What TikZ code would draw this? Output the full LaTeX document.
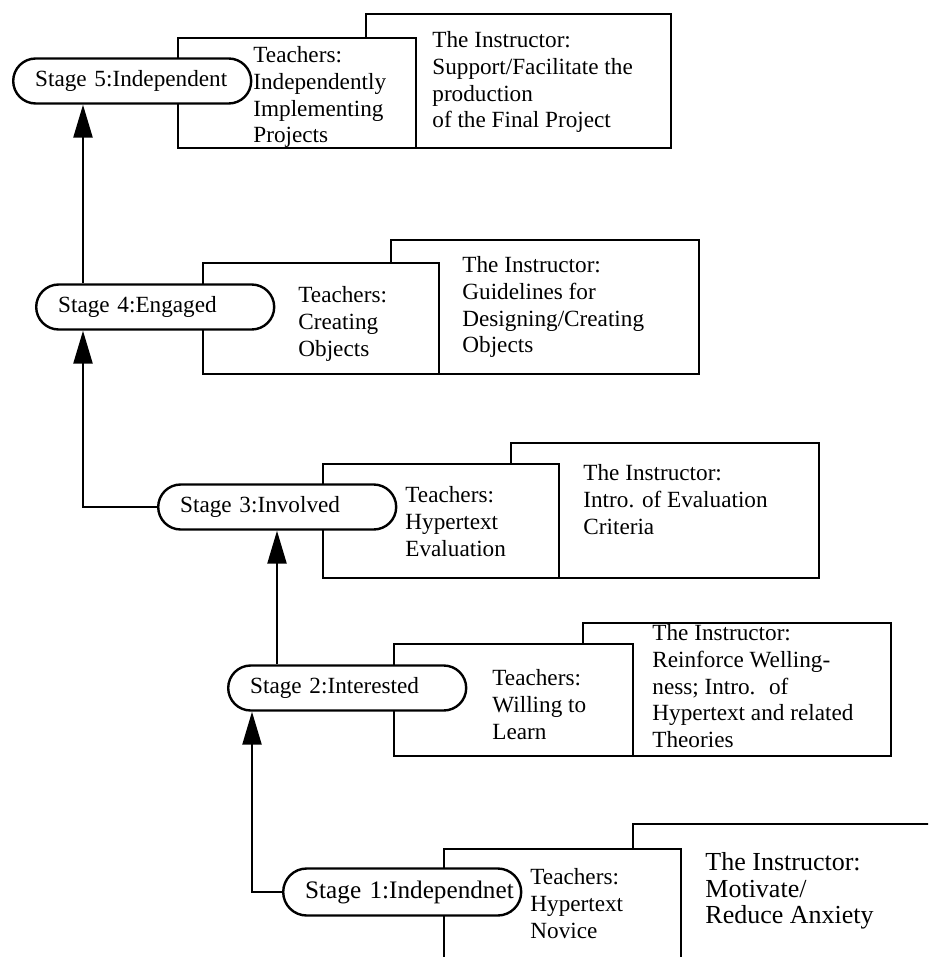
\documentclass[tikz,border=0pt]{standalone}
\usepackage{fontspec}
\setmainfont{Liberation Serif}
\usetikzlibrary{arrows.meta,positioning,calc}
\tikzset{
  % Stage pill: rounded ends, white fill hides the box edge behind it
  stagebox/.style={draw, fill=white, rectangle, rounded corners=11.25pt,
                   minimum height=22.5pt, text width=97pt, inner xsep=11pt, inner ysep=0pt,
                   align=left, anchor=west, line width=1.2pt,
                   font=\fontsize{11.6}{13.4}\selectfont},
  stagebox-big/.style={stagebox, minimum height=23.5pt, rounded corners=11.75pt,
                   font=\fontsize{12.6}{14}\selectfont},
  % Teacher box (front) and instructor box (behind)
  tbox/.style={draw, fill=white, rectangle, anchor=north west, inner sep=0pt, line width=1.2pt},
  ibox/.style={tbox},
  % Text inside the boxes
  boxtext/.style={anchor=north west, align=left, inner sep=0pt,
                  font=\fontsize{11.6}{13.4}\selectfont},
  boxtext-big/.style={boxtext, font=\fontsize{13}{13.3}\selectfont},
  % Arrows
  flowarr/.style={-{Triangle[length=16.5pt, width=9.5pt]}, line width=1.2pt}
}
\begin{document}
\begin{tikzpicture}[x=0.5pt, y=-0.5pt]
\useasboundingbox (0,0) rectangle (928,957);
\clip (0,0) rectangle (928,957);

% ============== Stage 5 ==============
\node[ibox, minimum width=152.5pt, minimum height=67pt] (i5) at (365,13) {};
\node[tbox, minimum width=119pt, minimum height=55pt] (t5) at (177,37) {};
\node[stagebox] (s5) at (12,81) {Stage 5:Independent};
\node[boxtext] (t5txt) at (253,46) {Teachers:\\Independently\\Implementing\\Projects};
\node[boxtext] (i5txt) at (432,31) {The Instructor:\\Support/Facilitate the\\production\\of the Final Project};

% ============== Stage 4 ==============
\node[ibox, minimum width=154pt, minimum height=67pt] (i4) at (390,239) {};
\node[tbox, minimum width=118pt, minimum height=55.5pt] (t4) at (202,262) {};
\node[stagebox] (s4) at (35,307) {Stage 4:Engaged};
\node[boxtext] (t4txt) at (298,286) {Teachers:\\Creating\\Objects};
\node[boxtext] (i4txt) at (462,256) {The Instructor:\\Guidelines for\\Designing/Creating\\Objects};

% ============== Stage 3 ==============
\node[ibox, minimum width=154pt, minimum height=67.5pt] (i3) at (510,442) {};
\node[tbox, minimum width=118pt, minimum height=57pt] (t3) at (322,463) {};
\node[stagebox] (s3) at (157,507) {Stage 3:Involved};
\node[boxtext] (t3txt) at (405,486) {Teachers:\\Hypertext\\Evaluation};
\node[boxtext] (i3txt) at (583,464) {The Instructor:\\Intro. of Evaluation\\Criteria};

% ============== Stage 2 ==============
\node[ibox, minimum width=154pt, minimum height=66.5pt] (i2) at (582,622) {};
\node[tbox, minimum width=119.5pt, minimum height=56pt] (t2) at (393,643) {};
\node[stagebox] (s2) at (227,688) {Stage 2:Interested};
\node[boxtext] (t2txt) at (492,669) {Teachers:\\Willing to\\Learn};
\node[boxtext] (i2txt) at (652,624) {The Instructor:\\Reinforce Welling-\\ness; Intro.~ of\\Hypertext and related\\Theories};

% ============== Stage 1 (boxes run off the page) ==============
\node[ibox, minimum width=184pt, minimum height=88.5pt] (i1) at (632,823) {};
\node[tbox, minimum width=118.5pt, minimum height=76pt] (t1) at (443,848) {};
\node[stagebox-big] (s1) at (282,892) {\mbox{Stage 1:Independnet}};
\node[boxtext] (t1txt) at (530,868) {Teachers:\\Hypertext\\Novice};
\node[boxtext-big] (i1txt) at (705,852) {The Instructor:\\Motivate/\\Reduce Anxiety};

% ============== Progression arrows ==============
\coordinate (up2) at ([xshift=12.5pt]s2.south west);
\coordinate (from2) at ([xshift=25pt]s2.north west);
\coordinate (up4) at ([xshift=24pt]s4.south west);
\coordinate (from4) at ([xshift=24pt]s4.north west);

\draw[flowarr] (s1.west) -| (up2);
\draw[flowarr] (from2) -- (from2 |- s3.south);
\draw[flowarr] (s3.west) -| (up4);
\draw[flowarr] (from4) -- (from4 |- s5.south);

\end{tikzpicture}
\end{document}
